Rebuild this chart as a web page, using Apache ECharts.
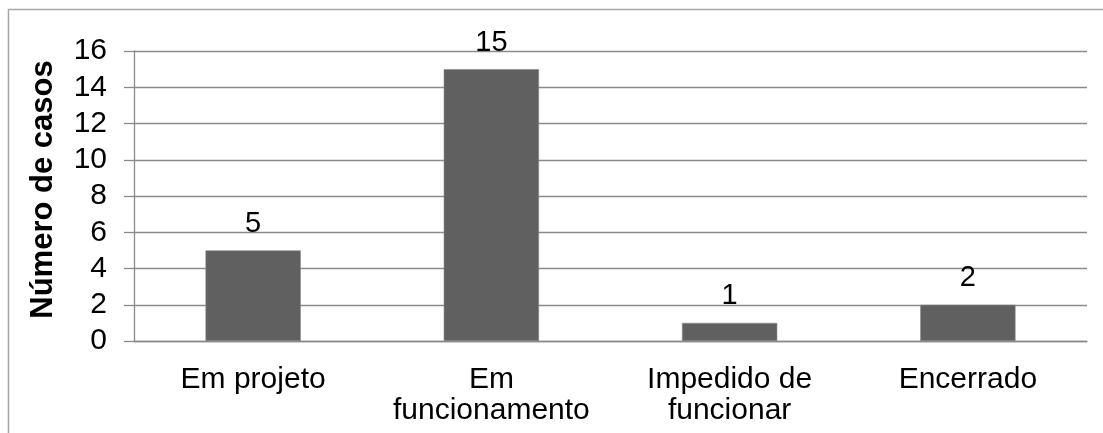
<!DOCTYPE html>
<html>
<head>
<meta charset="utf-8">
<script src="https://cdn.jsdelivr.net/npm/echarts@6/dist/echarts.min.js"></script>
<style>
html,body{margin:0;padding:0;background:#fff;}
#chart{width:1103px;height:433px;}
</style>
</head>
<body>
<div id="chart"></div>
<script>
const categories = ['Em projeto', 'Em\nfuncionamento', 'Impedido de\nfuncionar', 'Encerrado'];
const values = [5, 15, 1, 2];
const yTicks = {min: 0, max: 16, interval: 2};
const yTitle = 'Número de casos';

const chart = echarts.init(document.getElementById('chart'));
const font = '"Liberation Sans", Arial, sans-serif';
chart.setOption({
  animation: false,
  backgroundColor: '#fff',
  graphic: [{
    type: 'rect',
    shape: {x: 8.5, y: 9.5, width: 1300, height: 600},
    style: {fill: 'none', stroke: '#a6a6a6', lineWidth: 1.5},
    silent: true
  }],
  grid: {left: 134, right: 16, top: 51, bottom: 92, containLabel: false},
  xAxis: {
    type: 'category',
    data: categories,
    axisLine: {show: true, lineStyle: {color: '#8a8a8a', width: 1.3}},
    axisTick: {show: false},
    axisLabel: {
      color: '#000', fontFamily: font, fontSize: 30, lineHeight: 31,
      margin: 23, interval: 0
    }
  },
  yAxis: {
    type: 'value',
    min: yTicks.min, max: yTicks.max, interval: yTicks.interval,
    name: yTitle,
    nameLocation: 'middle',
    nameRotate: 90,
    nameGap: 75,
    nameTextStyle: {color: '#000', fontFamily: font, fontSize: 31, fontWeight: 'bold', padding: [0, 0, 0, 13]},
    axisLine: {show: true, lineStyle: {color: '#8a8a8a', width: 1.3}},
    axisTick: {show: true, length: 10, inside: false, lineStyle: {color: '#8a8a8a', width: 1.3}},
    axisLabel: {color: '#000', fontFamily: font, fontSize: 30, margin: 27},
    splitLine: {show: true, lineStyle: {color: '#8a8a8a', width: 1.3}}
  },
  series: [{
    type: 'bar',
    data: values,
    barWidth: '40%',
    itemStyle: {color: '#606060', borderColor: '#8a8a8a', borderWidth: 0.6},
    label: {
      show: true, position: 'top', distance: 12,
      color: '#000', fontFamily: font, fontSize: 29
    }
  }]
});
</script>
</body>
</html>
